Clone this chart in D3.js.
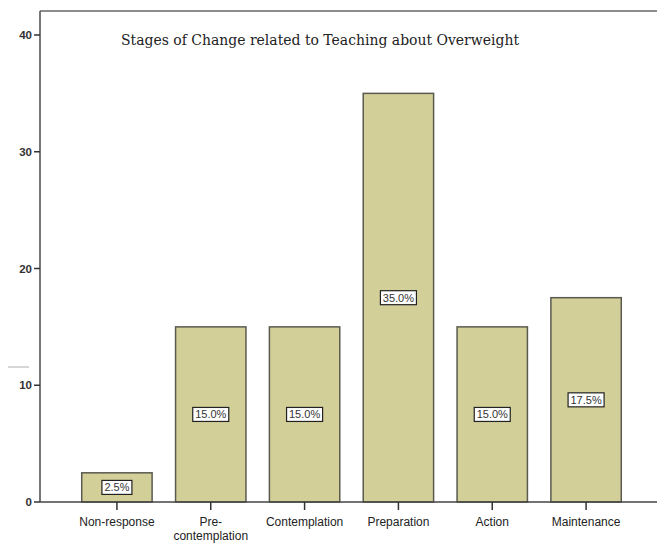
<!DOCTYPE html>
<html><head><meta charset="utf-8">
<script src="https://cdn.jsdelivr.net/npm/d3@7/dist/d3.min.js"></script>
<style>body{margin:0;background:#fff}svg{display:block}</style>
</head><body>
<svg id="c" width="657" height="546"></svg>
<script>
const categories = ["Non-response", "Pre-\ncontemplation", "Contemplation", "Preparation", "Action", "Maintenance"];
const values = [2.5, 15.0, 15.0, 35.0, 15.0, 17.5];
const valueLabels = ["2.5%", "15.0%", "15.0%", "35.0%", "15.0%", "17.5%"];
const yTicks = [0, 10, 20, 30, 40];
const title = "Stages of Change related to Teaching about Overweight";

const svg = d3.select("#c");
const x = d3.scaleBand().domain(categories).range([70, 633]).paddingInner(0.25).paddingOuter(0.125);
const y = d3.scaleLinear().domain([0, 40]).range([502, 35]);

// frame
svg.append("line").attr("x1", 40).attr("x2", 657).attr("y1", 11).attr("y2", 11)
  .attr("stroke", "#666").attr("stroke-width", 1.6);
svg.append("line").attr("x1", 40).attr("x2", 40).attr("y1", 11).attr("y2", 502)
  .attr("stroke", "#555").attr("stroke-width", 1.6);

// bars
svg.selectAll("rect.bar").data(values).join("rect").attr("class", "bar")
  .attr("x", (d, i) => x(categories[i]))
  .attr("width", x.bandwidth())
  .attr("y", d => y(d))
  .attr("height", d => y(0) - y(d))
  .attr("fill", "#d3cf98").attr("stroke", "#5a5a50").attr("stroke-width", 1.5);

// value labels
const lg = svg.selectAll("g.lab").data(values).join("g").attr("class", "lab")
  .attr("transform", (d, i) => `translate(${x(categories[i]) + x.bandwidth() / 2},${y(d / 2)})`);
lg.append("rect").attr("x", (d, i) => valueLabels[i].length === 4 ? -15 : -18)
  .attr("width", (d, i) => valueLabels[i].length === 4 ? 30 : 36)
  .attr("y", -7).attr("height", 14)
  .attr("fill", "#fff").attr("stroke", "#222").attr("stroke-width", 1.2);
lg.append("text").attr("text-anchor", "middle").attr("dy", 4)
  .attr("font-family", "Liberation Sans, Arial, sans-serif").attr("font-size", 11)
  .attr("fill", "#333").text((d, i) => valueLabels[i]);

// x axis
svg.append("line").attr("x1", 40).attr("x2", 657).attr("y1", 502).attr("y2", 502)
  .attr("stroke", "#444").attr("stroke-width", 1.6);
const xt = svg.selectAll("g.xt").data(categories).join("g").attr("class", "xt")
  .attr("transform", d => `translate(${x(d) + x.bandwidth() / 2},502)`);
xt.append("line").attr("y1", 0).attr("y2", 8).attr("stroke", "#333").attr("stroke-width", 1.5);
xt.append("text").attr("text-anchor", "middle")
  .attr("font-family", "Liberation Sans, Arial, sans-serif").attr("font-size", 12)
  .attr("fill", "#222")
  .selectAll("tspan").data(d => d.split("\n")).join("tspan")
  .attr("x", 0).attr("y", (d, i) => 24 + i * 14).text(d => d);

// y axis
const yt = svg.selectAll("g.yt").data(yTicks).join("g").attr("class", "yt")
  .attr("transform", d => `translate(40,${y(d)})`);
yt.append("line").attr("x1", -6).attr("x2", 0).attr("stroke", "#333").attr("stroke-width", 1.5);
yt.append("text").attr("x", -8).attr("dy", 4).attr("text-anchor", "end")
  .attr("font-family", "Liberation Sans, Arial, sans-serif").attr("font-size", 11.5).attr("font-weight", "bold")
  .attr("fill", "#333").text(d => d);

// stray dash at left
svg.append("line").attr("x1", 8).attr("x2", 29).attr("y1", 367).attr("y2", 367)
  .attr("stroke", "#999").attr("stroke-width", 0.8);

// title
svg.append("text").attr("x", 121).attr("y", 45)
  .attr("font-family", "DejaVu Serif, Liberation Serif, serif").attr("font-size", 15)
  .attr("textLength", 398).attr("lengthAdjust", "spacingAndGlyphs")
  .attr("fill", "#222").text(title);
</script>
</body></html>
